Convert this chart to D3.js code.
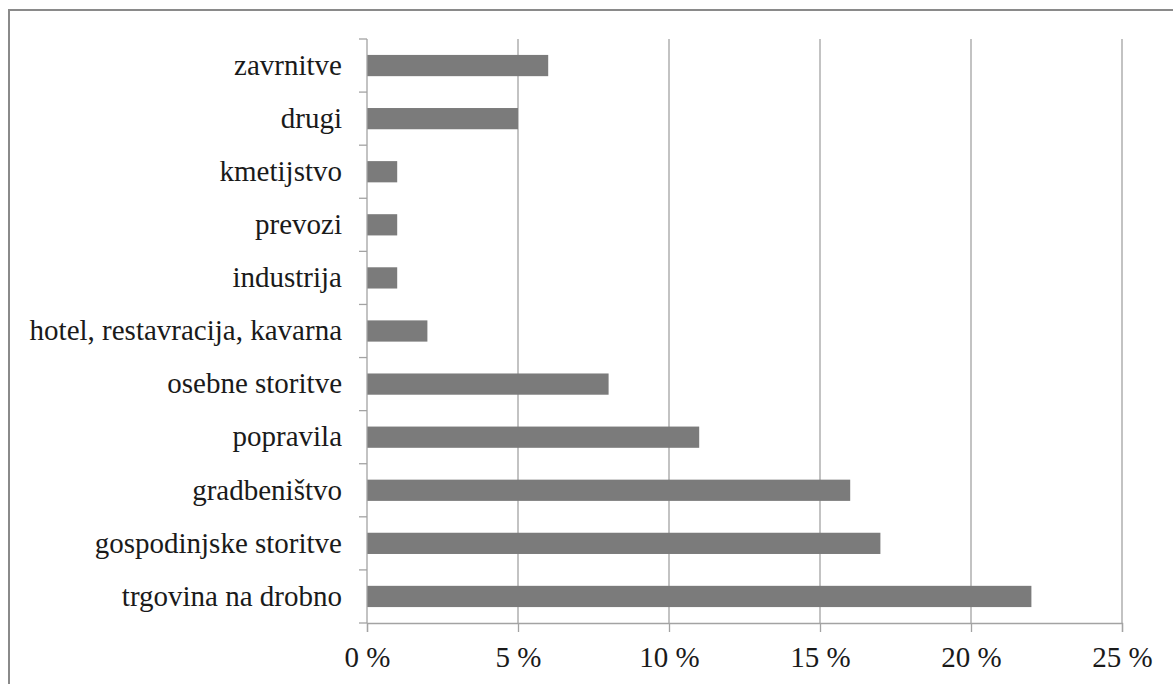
<!DOCTYPE html>
<html lang="sl">
<head>
<meta charset="utf-8">
<title>Dejavnosti</title>
<script src="https://d3js.org/d3.v7.min.js"></script>
<style>
  body { margin: 0; background: #fff; }
  svg text { font-family: "Liberation Serif", "Times New Roman", serif; fill: #1a1a1a; }
</style>
</head>
<body>
<div id="chart"></div>
<script>
// categories from top to bottom, values in %
var categories = ["zavrnitve", "drugi", "kmetijstvo", "prevozi", "industrija",
  "hotel, restavracija, kavarna", "osebne storitve", "popravila", "gradbeništvo",
  "gospodinjske storitve", "trgovina na drobno"];
var values = [6, 5, 1, 1, 1, 2, 8, 11, 16, 17, 22];
var xTicks = [0, 5, 10, 15, 20, 25];

var width = 1173, height = 684;
var plotLeft = 367, plotRight = 1122, plotTop = 39, plotBottom = 623;
var gridColor = "#a3a3a3";

var svg = d3.select("#chart").append("svg")
    .attr("width", width)
    .attr("height", height);

// outer frame
svg.append("rect")
    .attr("x", 9).attr("y", 10)
    .attr("width", width + 20).attr("height", height + 20)
    .attr("fill", "none")
    .attr("stroke", "#8a8a8a")
    .attr("stroke-width", 2);

var x = d3.scaleLinear().domain([0, 25]).range([plotLeft, plotRight]);
var y = d3.scaleBand().domain(categories).range([plotTop, plotBottom]).padding(0);

// vertical gridlines
svg.append("g")
    .selectAll("line")
    .data(xTicks.slice(1))
    .enter()
    .append("line")
    .attr("x1", function(d) { return x(d); })
    .attr("x2", function(d) { return x(d); })
    .attr("y1", plotTop)
    .attr("y2", plotBottom)
    .attr("stroke", gridColor)
    .attr("stroke-width", 1.3);

// bars
var barH = y.bandwidth() * 0.4;
svg.append("g")
    .selectAll("rect")
    .data(categories)
    .enter()
    .append("rect")
    .attr("x", x(0))
    .attr("y", function(d) { return y(d) + (y.bandwidth() - barH) / 2; })
    .attr("width", function(d, i) { return x(values[i]) - x(0); })
    .attr("height", barH)
    .attr("fill", "#7b7b7b");

// x axis
var xAxis = svg.append("g")
    .attr("transform", "translate(0," + plotBottom + ")")
    .call(d3.axisBottom(x)
        .tickValues(xTicks)
        .tickFormat(function(d) { return d + " %"; })
        .tickSize(9)
        .tickPadding(14));
xAxis.select(".domain").attr("stroke", gridColor).attr("stroke-width", 1.3);
xAxis.selectAll(".tick line").attr("stroke", gridColor).attr("stroke-width", 1.3);
xAxis.selectAll("text").style("font-size", "29px").attr("fill", "#1a1a1a");

// y axis labels
var yAxis = svg.append("g")
    .attr("transform", "translate(" + plotLeft + ",0)")
    .call(d3.axisLeft(y).tickSize(0).tickPadding(25));
yAxis.select(".domain").remove();
yAxis.selectAll("text").style("font-size", "29px").attr("fill", "#1a1a1a");

// y axis line and ticks between categories
svg.append("line")
    .attr("x1", plotLeft).attr("x2", plotLeft)
    .attr("y1", plotTop).attr("y2", plotBottom)
    .attr("stroke", gridColor).attr("stroke-width", 1.3);

var bounds = categories.map(function(d) { return y(d); }).concat([plotBottom]);
svg.append("g")
    .selectAll("line")
    .data(bounds)
    .enter()
    .append("line")
    .attr("x1", plotLeft - 8).attr("x2", plotLeft)
    .attr("y1", function(d) { return d; })
    .attr("y2", function(d) { return d; })
    .attr("stroke", gridColor).attr("stroke-width", 1.3);
</script>
</body>
</html>
